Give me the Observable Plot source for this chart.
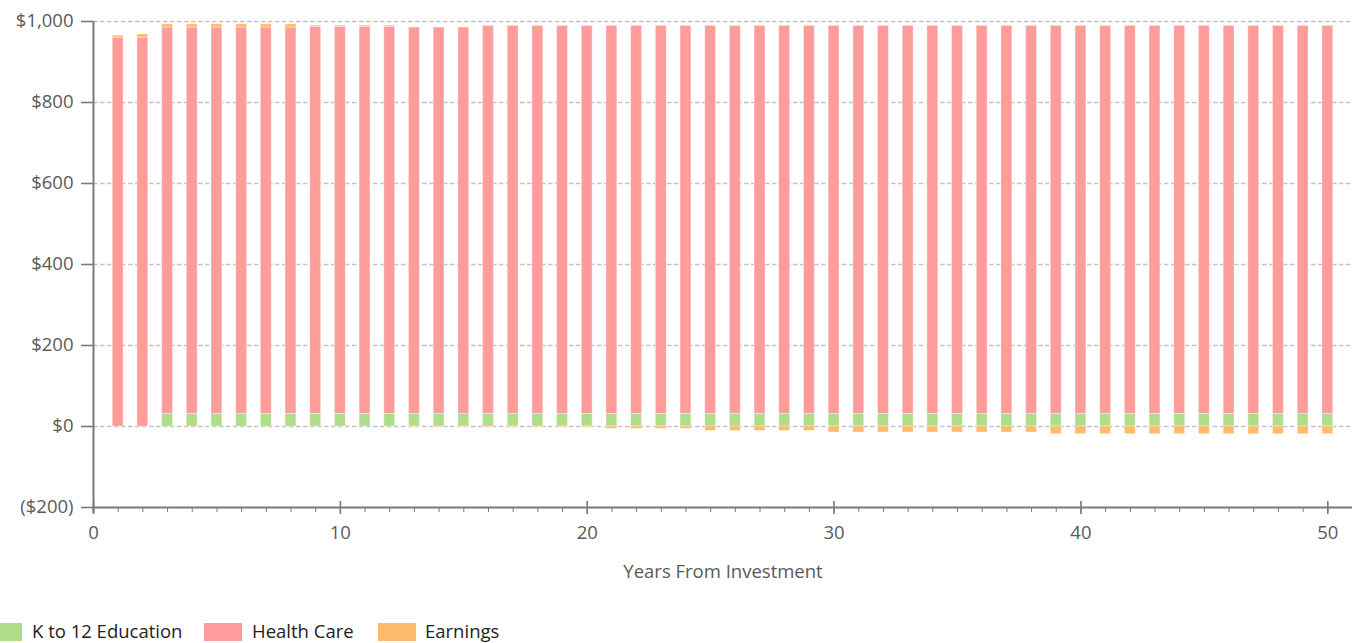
<!DOCTYPE html>
<html>
<head>
<meta charset="utf-8">
<script src="https://cdn.jsdelivr.net/npm/d3@7"></script>
<script src="https://cdn.jsdelivr.net/npm/@observablehq/plot@0.6"></script>
<style>
  html, body { margin: 0; padding: 0; background: #fff; }
  body { width: 1364px; height: 643px; position: relative; overflow: hidden; font-family: "Open Sans", sans-serif; }
  #chart { position: absolute; left: 0; top: 0; }
  .legend { position: absolute; left: 0; top: 622px; height: 21px; width: 1364px; }
  .sw { position: absolute; top: 1px; width: 38px; height: 18px; }
  .lt { position: absolute; top: -2px; font-size: 18.5px; color: #222; white-space: nowrap; line-height: 22px; }
</style>
</head>
<body>
<div id="chart"></div>
<div class="legend" id="legend"></div>
<script>
const seriesNames = ["K to 12 Education", "Health Care", "Earnings"];
const seriesColors = ["#afdd89", "#fe9c9b", "#ffbb6c"];

const years = [1,2,3,4,5,6,7,8,9,10,11,12,13,14,15,16,17,18,19,20,21,22,23,24,25,26,27,28,29,30,31,32,33,34,35,36,37,38,39,40,41,42,43,44,45,46,47,48,49,50];

const education = [0,0,31,31,31,31,31,31,31,31,31,31,31,31,31,31,31,31,31,31,31,31,31,31,31,31,31,31,31,31,31,31,31,31,31,31,31,31,31,31,31,31,31,31,31,31,31,31,31,31];

const healthCare = [960,960,954,954,954,954,954,954,956,956,956,956,954,954,954,958,958,958,958,958,958,958,958,958,958,958,958,958,958,958,958,958,958,958,958,958,958,958,958,958,958,958,958,958,958,958,958,958,958,958];

const earnings = [5,8,8,8,8,8,8,8,3,3,3,3,-2,-2,-2,-2,-2,-2,-2,-2,-6,-6,-6,-6,-11,-11,-11,-11,-11,-15,-15,-15,-15,-15,-15,-15,-15,-15,-19,-19,-19,-19,-19,-19,-19,-19,-19,-19,-19,-19];

const yTicks = [-200, 0, 200, 400, 600, 800, 1000];
const xMajorTicks = [0, 10, 20, 30, 40, 50];
const xMinorTicks = [0,1,2,3,4,5,6,7,8,9,10,11,12,13,14,15,16,17,18,19,20,21,22,23,24,25,26,27,28,29,30,31,32,33,34,35,36,37,38,39,40,41,42,43,44,45,46,47,48,49,50];
const xLabel = "Years From Investment";

const seriesValues = [education, healthCare, earnings];
const data = [];
seriesNames.forEach((s, i) => {
  years.forEach((yr, j) => data.push({year: yr, series: s, value: seriesValues[i][j]}));
});

const half = 0.22;
const fmtY = d => d < 0 ? `($${d3.format(",")(-d)})` : `$${d3.format(",")(d)}`;
const blank = () => "";
const axisColor = "#7a7a7a";
const textColor = "#5a5a5a";

const chart = Plot.plot({
  width: 1364,
  height: 590,
  marginLeft: 93,
  marginRight: 12,
  marginTop: 21,
  marginBottom: 83,
  style: {fontFamily: "'Open Sans', sans-serif", fontSize: "18.5px", color: textColor, background: "white"},
  x: {domain: [0, 51]},
  y: {domain: [-200, 1000]},
  color: {domain: seriesNames, range: seriesColors},
  marks: [
    Plot.ruleY(yTicks.filter(d => d > -200), {stroke: "#c4c4c4", strokeWidth: 1.3, strokeDasharray: "4.5,2.5"}),
    Plot.rect(data, Plot.stackY({
      x: "year",
      x1: d => d.year - half,
      x2: d => d.year + half,
      y: "value",
      fill: "series",
      order: seriesNames,
      stroke: "#ffffff",
      strokeOpacity: 0.35,
      strokeWidth: 1
    })),
    Plot.axisY({ticks: yTicks, tickFormat: fmtY, tickSize: 12, tickPadding: 8, stroke: axisColor, strokeWidth: 1.6, label: null, fill: textColor, fontSize: 18.5}),
    Plot.ruleX([0], {stroke: axisColor, strokeWidth: 2, insetBottom: -6}),
    Plot.ruleY([-200], {stroke: axisColor, strokeWidth: 2}),
    Plot.axisX({ticks: xMinorTicks, tickSize: 5, tickFormat: blank, stroke: axisColor, strokeWidth: 1, label: null}),
    Plot.axisX({ticks: xMajorTicks, tickSize: 13, dy: -6, tickFormat: blank, stroke: axisColor, strokeWidth: 1.6, label: null}),
    Plot.axisX({ticks: xMajorTicks, tickSize: 0, tickPadding: 18, tickFormat: d => String(d), label: null, fill: textColor, fontSize: 18.5}),
    Plot.text([xLabel], {frameAnchor: "bottom", dy: 70, text: d => d, fill: textColor, fontSize: 18.5})
  ]
});
document.getElementById("chart").appendChild(chart);

const legend = document.getElementById("legend");
const swLeft = [-16, 204, 378];
const txLeft = [32, 252, 425];
seriesNames.forEach((s, i) => {
  const sw = document.createElement("div");
  sw.className = "sw";
  sw.style.left = swLeft[i] + "px";
  sw.style.background = seriesColors[i];
  legend.appendChild(sw);
  const t = document.createElement("div");
  t.className = "lt";
  t.style.left = txLeft[i] + "px";
  t.textContent = s;
  legend.appendChild(t);
});
</script>
</body>
</html>
